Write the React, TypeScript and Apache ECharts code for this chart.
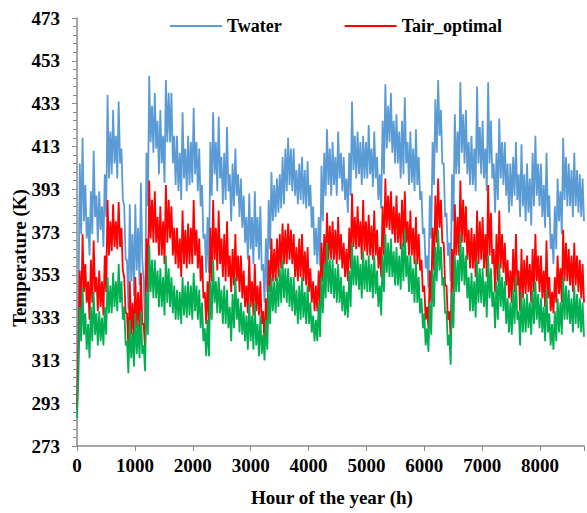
import React, { useEffect, useRef } from "react";
import * as echarts from "echarts";

// Hourly simulation, read as two values per 48 h block:
// one at the start of the block, one 24 h later.
const STEP_HOURS = 48;
const HALF_STEP = 24;

const twaterA = [
  292, 405, 417, 395, 380, 392, 411, 390, 392, 385, 400, 437, 420, 430, 418, 434, 412, 385, 360, 386,
  372, 386, 375, 396, 350, 410, 446, 432, 438, 425, 430, 418, 444, 438, 438, 418, 418, 410, 429, 412,
  418, 415, 431, 415, 412, 395, 372, 380, 415, 429, 415, 427, 408, 410, 422, 400, 405, 412, 400, 398,
  390, 380, 391, 380, 392, 380, 385, 358, 370, 388, 401, 395, 398, 400, 408, 412, 417, 412, 412, 402,
  405, 408, 402, 406, 395, 385, 375, 380, 404, 410, 421, 412, 415, 408, 420, 410, 408, 398, 410, 434,
  418, 420, 415, 418, 415, 423, 412, 420, 408, 400, 425, 442, 432, 438, 425, 428, 420, 425, 436, 415,
  420, 412, 421, 408, 392, 375, 362, 390, 415, 435, 444, 430, 405, 382, 368, 400, 428, 420, 443, 428,
  430, 415, 418, 412, 441, 422, 425, 412, 443, 425, 405, 410, 426, 415, 415, 405, 405, 408, 415, 400,
  414, 400, 405, 398, 410, 418, 405, 405, 395, 410, 390, 372, 385, 398, 392, 417, 408, 405, 402, 410,
  402, 400, 398,
];
const twaterB = [
  335, 372, 378, 370, 362, 372, 380, 368, 374, 366, 380, 398, 400, 405, 398, 405, 388, 360, 337, 350,
  343, 355, 348, 360, 328, 385, 415, 410, 412, 400, 405, 396, 415, 415, 405, 395, 392, 388, 398, 392,
  395, 396, 400, 392, 385, 370, 354, 354, 390, 400, 392, 398, 386, 388, 392, 378, 385, 390, 380, 375,
  368, 360, 365, 358, 366, 360, 355, 340, 345, 365, 378, 380, 382, 384, 386, 392, 395, 392, 390, 386,
  388, 386, 384, 385, 375, 362, 358, 357, 378, 390, 395, 390, 395, 390, 398, 392, 388, 382, 390, 402,
  398, 400, 395, 398, 398, 400, 394, 398, 388, 384, 400, 412, 415, 410, 405, 405, 398, 400, 405, 395,
  396, 392, 395, 388, 372, 356, 347, 370, 395, 410, 418, 405, 380, 362, 350, 378, 400, 400, 410, 405,
  400, 395, 395, 392, 405, 400, 398, 392, 405, 398, 382, 388, 398, 395, 390, 382, 385, 390, 388, 380,
  385, 378, 382, 376, 385, 390, 385, 380, 375, 380, 365, 358, 365, 378, 372, 388, 385, 385, 380, 385,
  382, 380, 378,
];

const tairOptimalA = [
  290, 355, 372, 358, 350, 360, 369, 352, 355, 350, 362, 388, 378, 386, 378, 387, 375, 352, 335, 350,
  340, 352, 345, 354, 330, 370, 397, 388, 392, 380, 385, 378, 395, 388, 385, 375, 375, 370, 383, 374,
  377, 375, 388, 374, 370, 362, 345, 350, 375, 388, 375, 383, 370, 372, 378, 362, 365, 372, 362, 362,
  355, 348, 362, 350, 358, 348, 350, 336, 342, 360, 370, 365, 370, 372, 377, 374, 377, 374, 372, 366,
  370, 372, 364, 366, 356, 350, 348, 355, 368, 372, 382, 376, 378, 374, 380, 372, 368, 365, 375, 391,
  380, 385, 378, 388, 378, 381, 376, 383, 374, 366, 385, 398, 390, 392, 385, 390, 382, 388, 392, 378,
  383, 375, 380, 372, 360, 348, 338, 355, 375, 390, 398, 388, 368, 348, 336, 365, 386, 380, 397, 388,
  385, 374, 375, 372, 383, 378, 380, 372, 395, 382, 365, 372, 383, 372, 368, 360, 355, 365, 372, 355,
  365, 360, 362, 358, 365, 372, 362, 362, 355, 369, 352, 345, 352, 362, 356, 374, 368, 365, 362, 368,
  362, 360, 358,
];
const tairOptimalB = [
  318, 332, 345, 340, 332, 340, 345, 336, 338, 334, 345, 362, 364, 366, 365, 366, 355, 335, 318, 325,
  320, 328, 325, 330, 318, 345, 370, 368, 368, 362, 362, 358, 368, 370, 362, 358, 356, 352, 358, 356,
  358, 358, 362, 356, 350, 342, 330, 330, 350, 360, 355, 358, 352, 350, 352, 345, 348, 350, 345, 342,
  338, 335, 338, 334, 336, 334, 330, 320, 328, 345, 350, 350, 352, 356, 358, 358, 360, 358, 352, 350,
  352, 350, 348, 345, 340, 336, 336, 338, 350, 356, 360, 360, 360, 358, 360, 356, 352, 350, 356, 366,
  365, 366, 360, 364, 362, 362, 360, 362, 356, 352, 362, 375, 374, 372, 368, 368, 365, 366, 368, 362,
  362, 358, 358, 355, 345, 332, 328, 340, 355, 368, 375, 368, 348, 332, 324, 345, 362, 362, 368, 368,
  360, 356, 356, 352, 358, 360, 356, 352, 362, 358, 345, 350, 356, 354, 348, 342, 340, 345, 348, 336,
  342, 344, 345, 340, 345, 350, 345, 342, 338, 342, 336, 335, 340, 344, 340, 350, 350, 348, 345, 348,
  345, 342, 340,
];

const tairA = [
  286, 338, 347, 335, 330, 338, 345, 335, 336, 333, 338, 352, 348, 354, 350, 358, 350, 338, 322, 332,
  326, 335, 330, 336, 320, 345, 367, 360, 360, 355, 356, 352, 362, 356, 352, 348, 346, 345, 352, 348,
  350, 348, 354, 348, 346, 340, 328, 332, 350, 360, 350, 352, 346, 348, 346, 338, 344, 352, 342, 340,
  336, 334, 340, 334, 340, 330, 334, 325, 332, 348, 352, 350, 352, 356, 360, 356, 356, 352, 352, 346,
  348, 352, 345, 348, 340, 334, 332, 340, 352, 358, 368, 360, 360, 356, 358, 352, 348, 345, 355, 368,
  362, 362, 358, 364, 360, 362, 358, 362, 355, 348, 362, 372, 368, 370, 364, 366, 362, 368, 374, 362,
  362, 356, 360, 352, 342, 335, 328, 340, 355, 366, 374, 366, 352, 336, 325, 345, 362, 360, 372, 366,
  362, 352, 354, 350, 360, 356, 356, 350, 362, 356, 345, 350, 358, 352, 350, 342, 340, 346, 352, 336,
  345, 342, 344, 340, 346, 350, 344, 342, 338, 346, 335, 330, 336, 342, 340, 352, 348, 346, 342, 348,
  344, 342, 340,
];
const tairB = [
  305, 322, 325, 318, 314, 322, 325, 320, 322, 320, 325, 335, 335, 338, 336, 340, 332, 320, 307, 314,
  310, 316, 314, 316, 308, 325, 345, 342, 342, 338, 338, 334, 340, 338, 335, 332, 332, 330, 334, 333,
  334, 332, 336, 332, 328, 322, 315, 315, 332, 340, 335, 335, 330, 330, 328, 322, 328, 332, 326, 325,
  322, 318, 322, 318, 320, 315, 316, 313, 318, 330, 336, 335, 338, 340, 342, 340, 338, 336, 334, 330,
  332, 333, 330, 330, 326, 322, 322, 324, 335, 342, 345, 344, 342, 340, 340, 336, 334, 333, 338, 348,
  348, 346, 342, 346, 345, 345, 342, 344, 338, 334, 345, 354, 352, 352, 348, 348, 346, 350, 352, 345,
  344, 340, 340, 335, 328, 320, 317, 325, 338, 350, 355, 348, 335, 320, 311, 328, 345, 345, 350, 348,
  342, 336, 336, 333, 340, 340, 338, 333, 342, 338, 328, 332, 338, 336, 330, 326, 325, 330, 332, 320,
  326, 326, 328, 325, 330, 332, 328, 326, 322, 326, 320, 318, 322, 326, 325, 332, 332, 330, 326, 330,
  328, 326, 324,
];

const yTicks = { min: 273, max: 473, step: 20 };
const xTicks = { min: 0, max: 8760, step: 1000 };

const FONT = '"Liberation Serif", "Times New Roman", serif';

const toPoints = (first: number[], second: number[]) =>
  first.flatMap((v, i) => [
    [i * STEP_HOURS, v],
    [i * STEP_HOURS + HALF_STEP, second[i]],
  ]);

export default function App() {
  const ref = useRef<HTMLDivElement>(null);

  useEffect(() => {
    if (!ref.current) return;
    const chart = echarts.init(ref.current, undefined, { renderer: "svg" });

    const labelStyle = {
      fontFamily: FONT,
      fontWeight: "bold" as const,
      fontSize: 19,
      color: "#000",
    };
    const axisLine = { show: true, lineStyle: { color: "#8a8a8a", width: 1.5 } };
    const lineSeries = (name: string, data: number[][], color: string) => ({
      name,
      type: "line",
      data,
      showSymbol: false,
      symbol: "none",
      lineStyle: { color, width: 1.8 },
      itemStyle: { color },
    });

    chart.setOption({
      animation: false,
      backgroundColor: "#fff",
      grid: { left: 77, top: 18, bottom: 67, right: -18, containLabel: false },
      legend: {
        left: 170,
        top: 17,
        padding: 0,
        icon: "rect",
        itemWidth: 52,
        itemHeight: 2,
        itemGap: 63,
        data: ["Twater", "Tair_optimal"],
        textStyle: { ...labelStyle, fontSize: 18 },
      },
      xAxis: {
        type: "value",
        min: xTicks.min,
        max: xTicks.max,
        interval: xTicks.step,
        axisLine,
        axisTick: { show: true, inside: false, length: 5, lineStyle: { color: "#8a8a8a" } },
        axisLabel: {
          ...labelStyle,
          margin: 10,
          formatter: (v: number) => (v > 8000 ? "" : String(v)),
        },
        splitLine: { show: false },
      },
      yAxis: {
        type: "value",
        min: yTicks.min,
        max: yTicks.max,
        interval: yTicks.step,
        axisLine,
        axisTick: { show: true, inside: false, length: 5, lineStyle: { color: "#8a8a8a" } },
        minorTick: { show: true, splitNumber: 5, length: 4, lineStyle: { color: "#8a8a8a" } },
        axisLabel: { ...labelStyle, margin: 17 },
        splitLine: { show: false },
      },
      series: [
        lineSeries("Twater", toPoints(twaterA, twaterB), "#5b9bd5"),
        lineSeries("Tair_optimal", toPoints(tairOptimalA, tairOptimalB), "#ff0000"),
        lineSeries("Tair", toPoints(tairA, tairB), "#00b050"),
      ],
      graphic: [
        {
          type: "text",
          x: 19,
          y: 258,
          rotation: Math.PI / 2,
          style: {
            text: "Temperature (K)",
            font: `bold 19px ${FONT}`,
            fill: "#000",
            align: "center",
            verticalAlign: "middle",
          },
        },
        {
          type: "text",
          x: 332,
          y: 497,
          style: {
            text: "Hour of the year (h)",
            font: `bold 19px ${FONT}`,
            fill: "#000",
            align: "center",
            verticalAlign: "middle",
          },
        },
      ],
    });

    return () => chart.dispose();
  }, []);

  return (
    <div
      ref={ref}
      style={{ position: "absolute", left: 0, top: 0, width: 587, height: 513 }}
    />
  );
}
